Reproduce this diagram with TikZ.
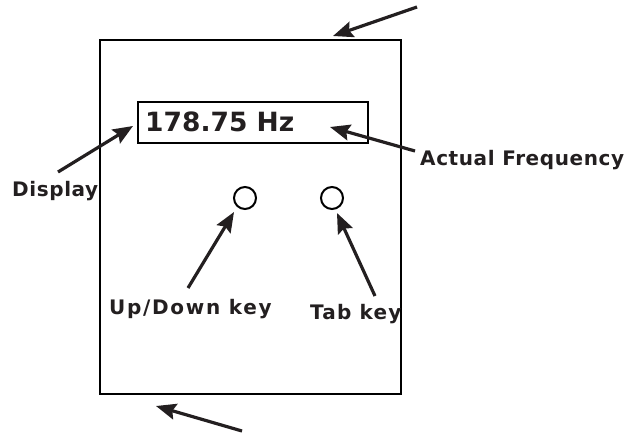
\documentclass[tikz,border=0pt]{standalone}
\usepackage{fontspec}
\setmainfont{DejaVu Sans}
\usetikzlibrary{arrows.meta}
\usetikzlibrary{positioning}
\definecolor{ink}{HTML}{231F20}

\begin{document}
\begin{tikzpicture}[x=1pt, y=-1pt, >={Stealth[length=20pt, width=16pt, inset=3pt]},
  lbl/.style={font=\bfseries\fontsize{20}{24}\selectfont\addfontfeature{LetterSpace=3}, text=ink, inner sep=0pt},
  pointer/.style={line width=3.2pt, ->, draw=ink, fill=ink},
  keybtn/.style={circle, draw, line width=2pt, minimum size=22pt, inner sep=0pt}]
  \path[use as bounding box] (0, 0) rectangle (632, 432);

%%%%%%%%%%%% Housing and display
  \node[draw, line width=2.9pt, minimum width=301pt, minimum height=354pt, inner sep=0pt] (housing) at (250.5, 217) {};
  \node[draw, line width=2.4pt, minimum width=230pt, minimum height=41pt, inner sep=0pt] (screen) at (253, 122.5) {};
  \node[anchor=base west, inner sep=0pt, text=ink, font=\bfseries\fontsize{26.5}{30}\selectfont] (reading) at (145, 131) {178.75 Hz};

%%%%%%%%%%%% Keys
  \foreach \x/\n in {245/updown, 332/tab} {
    \node[keybtn] (\n) at (\x, 198) {};
  }

%%%%%%%%%%%% Labels
  \node[lbl, anchor=base west] (display) at (12, 196) {Display};
  \node[lbl, anchor=base west] (actual) at (420, 165) {Actual Frequency};
  \node[lbl, anchor=base west] (updownlbl) at (109, 314) {\addfontfeature{LetterSpace=8.5}Up/Down key};
  \node[lbl, anchor=base west] (tablbl) at (310, 319) {\addfontfeature{LetterSpace=6}Tab key};

%%%%%%%%%%%% Arrow ends
  \coordinate (dispTail) at (58, 172);
  \coordinate (dispTip) at (133, 126);
  \coordinate (freqTail) at (415, 151);
  \coordinate (freqTip) at (330, 127);
  \coordinate (udTail) at (188, 288);
  \coordinate (udTip) at (234, 212);
  \coordinate (tabTail) at (375, 296);
  \coordinate (tabTip) at (337, 213);
  \coordinate (topTail) at (417, 7);
  \coordinate (topTip) at (333, 36);
  \coordinate (botTail) at (242, 431);
  \coordinate (botTip) at (156, 406);

  \foreach \a/\b in {dispTail/dispTip, freqTail/freqTip, udTail/udTip, tabTail/tabTip, topTail/topTip, botTail/botTip} {
    \draw[pointer] (\a) -- (\b);
  }
\end{tikzpicture}
\end{document}
